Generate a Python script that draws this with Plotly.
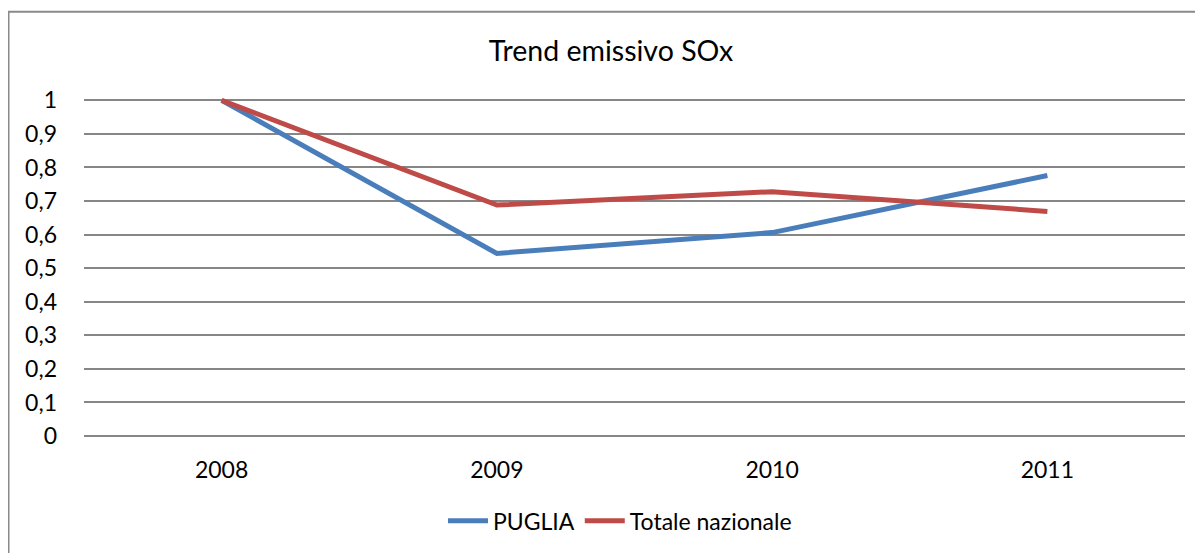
import plotly.graph_objects as go

years = ["2008", "2009", "2010", "2011"]
puglia = [1.0, 0.544, 0.606, 0.776]
totale = [1.0, 0.688, 0.728, 0.669]

FONT = "Lato"
OFF = 8  # page body margin (figure drawn at x=8, y=8)
W, H = 1203 - OFF, 553 - OFF
L, R = 84 - OFF, 18
TOP, BOT = 96.6 - OFF, 116
ph = H - TOP - BOT
pw = W - L - R
y_bottom_screen = 553 - BOT  # y pixel of value 0 on screen

fig = go.Figure()
fig.add_trace(go.Scatter(x=years, y=puglia, mode="lines", name="PUGLIA",
                         line=dict(color="#4A7EBB", width=5)))
fig.add_trace(go.Scatter(x=years, y=totale, mode="lines", name="Totale nazionale",
                         line=dict(color="#BE4B48", width=5)))

fig.update_layout(
    width=W, height=H,
    margin=dict(l=L, r=R, t=TOP, b=BOT),
    paper_bgcolor="white", plot_bgcolor="white",
    separators=",.",
    font=dict(family=FONT, size=23, color="black"),
    title=dict(text="Trend emissivo SOx", font=dict(family=FONT, size=28.5, color="black"),
               x=(611 - OFF - L) / pw, xref="paper", xanchor="center",
               y=1 - (51 - OFF) / H, yref="container", yanchor="middle"),
    showlegend=True,
    legend=dict(orientation="h", x=(620 - OFF - L) / pw, xanchor="center",
                y=-(521 - y_bottom_screen) / ph, yanchor="middle",
                font=dict(family=FONT, size=23), itemwidth=40,
                bgcolor="rgba(0,0,0,0)"),
    xaxis=dict(type="category", range=[-0.5, 3.5], showgrid=False, showline=False,
               ticks="", zeroline=False, ticklabelstandoff=18,
               tickfont=dict(family=FONT, size=23)),
    yaxis=dict(range=[0, 1.01], dtick=0.1, tick0=0, showgrid=True,
               gridcolor="#868686", gridwidth=1.6,
               zeroline=True, zerolinecolor="#868686", zerolinewidth=1.6,
               showline=False, ticks="", ticklabelstandoff=26, tickformat=",.1~f",
               tickfont=dict(family=FONT, size=23)),
    shapes=[dict(type="rect", xref="paper", yref="paper",
                 x0=(8.5 - 84) / pw, x1=1.2, y0=-0.6, y1=(y_bottom_screen - 11) / ph,
                 line=dict(color="#8a8a8a", width=2), layer="below")],
)

fig.write_html("out.html")
